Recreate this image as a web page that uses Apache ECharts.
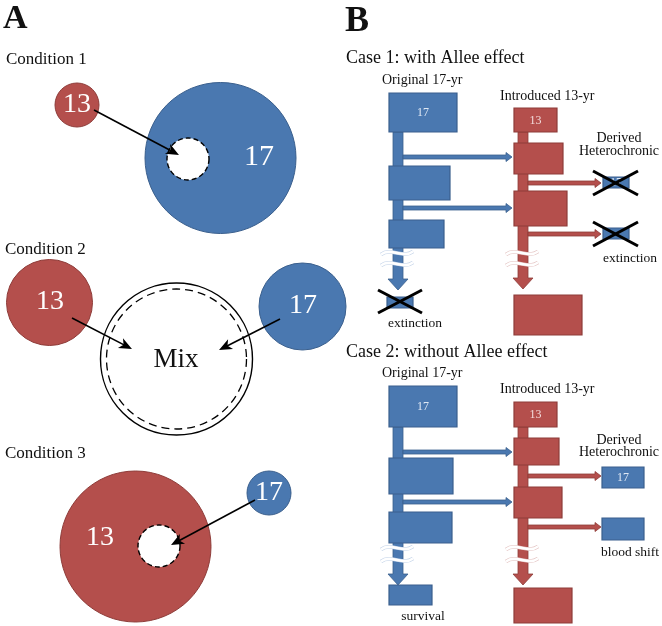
<!DOCTYPE html>
<html><head><meta charset="utf-8">
<script src="https://cdn.jsdelivr.net/npm/echarts@6/dist/echarts.min.js"></script>
<style>html,body{margin:0;padding:0;background:#fff}#c{width:662px;height:626px}</style>
</head><body><div id="c"></div>
<script>
// ---------- Panel A ----------
// circles: [cx, cy, r, kind]
const circlesA = [
  [77, 105, 22, 'red'], [220.5, 158, 75.5, 'blue'], [188, 159, 21, 'hole'],
  [49.5, 302.5, 43, 'red'], [302.5, 306.5, 43.5, 'blue'],
  [176.5, 359, 76, 'ring'], [176.5, 359, 70, 'ringDash'],
  [135.5, 546.5, 75.5, 'red'], [159, 546, 21, 'hole'], [269, 493, 22, 'blue']
];
// arrows: [x1, y1, x2, y2]
const arrowsA = [
  [94, 110, 179, 155], [72, 318, 132, 349], [280, 319, 219, 350], [255, 500, 171, 545]
];
// ---------- Panel B ----------
// boxes: [x0, y0, x1, y1, kind, label]
const boxesB = [
  [389, 93, 457, 132, 'blue', '17'], [389, 166, 450, 200, 'blue', ''], [389, 220, 444, 248, 'blue', ''],
  [387, 297, 413, 308, 'blue', ''],
  [514, 108, 557, 132, 'red', '13'], [514, 143, 563, 174, 'red', ''], [514, 191, 567, 226, 'red', ''],
  [514, 295, 582, 335, 'red', ''],
  [603, 177, 629, 188, 'blue', '17'], [603, 228, 629, 239, 'blue', ''],
  [389, 386, 457, 427, 'blue', '17'], [389, 458, 453, 494, 'blue', ''], [389, 512, 452, 543, 'blue', ''],
  [389, 585, 432, 605, 'blue', ''],
  [514, 402, 557, 427, 'red', '13'], [514, 438, 559, 465, 'red', ''], [514, 487, 562, 518, 'red', ''],
  [514, 588, 572, 623, 'red', ''],
  [602, 467, 644, 488, 'blue', '17'], [602, 518, 644, 540, 'blue', '']
];
// vertical stems: [xCenter, yTop, yTip, kind]
const stemsB = [
  [398, 132, 290, 'blue'], [523, 132, 289, 'red'],
  [398, 427, 585, 'blue'], [523, 427, 585, 'red']
];
// horizontal arrows: [x0, x1, y, kind]
const hArrowsB = [
  [403, 512, 157, 'blue'], [403, 512, 208, 'blue'],
  [528, 601, 183, 'red'], [528, 601, 234, 'red'],
  [403, 512, 452, 'blue'], [403, 512, 502, 'blue'],
  [528, 601, 476, 'red'], [528, 601, 527, 'red']
];
// break waves: [xCenter, y, kind]
const wavesB = [
  [397, 253, 'blue'], [397, 264, 'blue'], [522, 253, 'red'], [522, 264, 'red'],
  [397, 548, 'blue'], [397, 560, 'blue'], [522, 548, 'red'], [522, 560, 'red']
];
// crosses: [x0, y0, x1, y1]
const crossesB = [
  [378, 290, 422, 313], [593, 171, 638, 195], [593, 222, 638, 246]
];
// texts: [text, x, y, size, align, colour, weight]
const textsAll = [
  ['A', 3, 19, 34, 'left', 'k', 'bold'], ['B', 345, 22, 36, 'left', 'k', 'bold'],
  ['Condition 1', 6, 60, 17, 'left', 'k'], ['Condition 2', 5, 250, 17, 'left', 'k'],
  ['Condition 3', 5, 454, 17, 'left', 'k'],
  ['13', 77, 105, 28, 'center', 'w'], ['17', 259, 157, 30, 'center', 'w'],
  ['13', 50, 302, 28, 'center', 'w'], ['17', 303, 306, 28, 'center', 'w'],
  ['Mix', 176, 360, 27, 'center', 'k'],
  ['13', 100, 538, 28, 'center', 'w'], ['17', 269, 493, 28, 'center', 'w'],
  ['Case 1: with Allee effect', 346, 58, 18, 'left', 'k'],
  ['Original 17-yr', 382, 80, 14, 'left', 'k'], ['Introduced 13-yr', 500, 96, 14, 'left', 'k'],
  ['Derived', 619, 138, 14, 'center', 'k'], ['Heterochronic', 619, 151, 14, 'center', 'k'],
  ['extinction', 415, 323, 13.5, 'center', 'k'], ['extinction', 630, 258, 13.5, 'center', 'k'],
  ['Case 2: without Allee effect', 346, 352, 18, 'left', 'k'],
  ['Original 17-yr', 382, 373, 14, 'left', 'k'], ['Introduced 13-yr', 500, 389, 14, 'left', 'k'],
  ['Derived', 619, 440, 14, 'center', 'k'], ['Heterochronic', 619, 452, 14, 'center', 'k'],
  ['survival', 423, 616, 13.5, 'center', 'k'], ['blood shift', 630, 552, 13.5, 'center', 'k']
];

const FONT = '"Liberation Serif", "DejaVu Serif", serif';
const COL = {
  red: { fill: '#b44f4c', stroke: '#8e3c39', pale: '#e3c2c1', text: '#f3dcdc' },
  blue: { fill: '#4a78b0', stroke: '#3a5f8d', pale: '#c3d3e8', text: '#dfe8f4' },
  k: '#111', w: '#fff'
};

function pt(api, x, y) { return api.coord([x, y]); }
function len(api, v) { return api.size([v, 0])[0]; }

function mkSeries(name, arr, render, z) {
  return {
    type: 'custom', name, z: z, silent: true, animation: false, clip: false,
    data: arr.map(() => [0, 0]), encode: { x: 0, y: 1 },
    renderItem: (params, api) => render(arr[params.dataIndex], api)
  };
}

function renderCircle(d, api) {
  const p = pt(api, d[0], d[1]); const r = len(api, d[2]); const k = d[3];
  let style;
  if (k === 'red' || k === 'blue') style = { fill: COL[k].fill, stroke: COL[k].stroke, lineWidth: 1 };
  else if (k === 'hole') style = { fill: '#fff', stroke: '#000', lineWidth: 1.4, lineDash: [5, 3] };
  else if (k === 'ring') style = { fill: '#fff', stroke: '#000', lineWidth: 1.4 };
  else style = { fill: 'none', stroke: '#000', lineWidth: 1.3, lineDash: [8, 5] };
  return { type: 'circle', shape: { cx: p[0], cy: p[1], r }, style };
}

function renderArrowA(d, api) {
  const a = pt(api, d[0], d[1]), b = pt(api, d[2], d[3]);
  const dx = b[0] - a[0], dy = b[1] - a[1], L = Math.hypot(dx, dy);
  const ux = dx / L, uy = dy / L, nx = -uy, ny = ux;
  const hl = 13, hw = 5.5;
  const bx = b[0] - ux * hl, by = b[1] - uy * hl;
  return {
    type: 'group', children: [
      { type: 'line', shape: { x1: a[0], y1: a[1], x2: bx + ux * 4, y2: by + uy * 4 }, style: { stroke: '#000', lineWidth: 1.6 } },
      { type: 'polygon', shape: { points: [b, [bx + nx * hw, by + ny * hw], [bx + ux * 3.5, by + uy * 3.5], [bx - nx * hw, by - ny * hw]] }, style: { fill: '#000' } }
    ]
  };
}

function renderBox(d, api) {
  const p0 = pt(api, d[0], d[1]), p1 = pt(api, d[2], d[3]); const c = COL[d[4]];
  const children = [{ type: 'rect', shape: { x: p0[0], y: p0[1], width: p1[0] - p0[0], height: p1[1] - p0[1] }, style: { fill: c.fill, stroke: c.stroke, lineWidth: 1.2 } }];
  if (d[5]) children.push({ type: 'text', x: (p0[0] + p1[0]) / 2, y: (p0[1] + p1[1]) / 2 + 0.5, style: { text: d[5], fill: c.text, font: '12px ' + FONT, align: 'center', verticalAlign: 'middle' } });
  return { type: 'group', children };
}

function renderStem(d, api) {
  const x = pt(api, d[0], 0)[0], y0 = pt(api, 0, d[1])[1], y1 = pt(api, 0, d[2])[1]; const c = COL[d[3]];
  const hw = 5, hh = 10, hl = 11;
  return { type: 'polygon', shape: { points: [[x - hw, y0], [x + hw, y0], [x + hw, y1 - hl], [x + hh, y1 - hl], [x, y1], [x - hh, y1 - hl], [x - hw, y1 - hl]] }, style: { fill: c.fill, stroke: c.stroke, lineWidth: 0.8 } };
}

function renderHArrow(d, api) {
  const x0 = pt(api, d[0], 0)[0], x1 = pt(api, d[1], 0)[0], y = pt(api, 0, d[2])[1]; const c = COL[d[3]];
  const sh = 2, hh = 4.5, hl = 6;
  return { type: 'polygon', shape: { points: [[x0, y - sh], [x1 - hl, y - sh], [x1 - hl, y - hh], [x1, y], [x1 - hl, y + hh], [x1 - hl, y + sh], [x0, y + sh]] }, style: { fill: c.fill, stroke: c.stroke, lineWidth: 0.8 } };
}

function renderWave(d, api) {
  const p = pt(api, d[0], d[1]); const c = COL[d[2]];
  const shape = { x1: p[0] - 16, y1: p[1] + 1.5, cpx1: p[0] - 6, cpy1: p[1] - 6, cpx2: p[0] + 6, cpy2: p[1] + 6, x2: p[0] + 16, y2: p[1] - 1.5 };
  return {
    type: 'group', children: [
      { type: 'bezierCurve', shape, style: { stroke: c.pale, lineWidth: 3.8, fill: 'none' } },
      { type: 'bezierCurve', shape, style: { stroke: '#fff', lineWidth: 2.6, fill: 'none' } }
    ]
  };
}

function renderCross(d, api) {
  const a = pt(api, d[0], d[1]), b = pt(api, d[2], d[3]);
  const st = { stroke: '#000', lineWidth: 3 };
  return {
    type: 'group', children: [
      { type: 'line', shape: { x1: a[0], y1: a[1], x2: b[0], y2: b[1] }, style: st },
      { type: 'line', shape: { x1: a[0], y1: b[1], x2: b[0], y2: a[1] }, style: st }
    ]
  };
}

function renderText(d, api) {
  const p = pt(api, d[1], d[2]);
  return { type: 'text', x: p[0], y: p[1], style: { text: d[0], fill: COL[d[5]], font: (d[6] || 'normal') + ' ' + d[3] + 'px ' + FONT, align: d[4], verticalAlign: 'middle' } };
}

const chart = echarts.init(document.getElementById('c'), null, { renderer: 'canvas' });
chart.setOption({
  animation: false,
  backgroundColor: '#fff',
  grid: { left: 0, right: 0, top: 0, bottom: 0 },
  xAxis: { type: 'value', min: 0, max: 662, show: false },
  yAxis: { type: 'value', min: 0, max: 626, inverse: true, show: false },
  series: [
    mkSeries('circlesA', circlesA, renderCircle, 1),
    mkSeries('arrowsA', arrowsA, renderArrowA, 2),
    mkSeries('stems', stemsB, renderStem, 3),
    mkSeries('hArrows', hArrowsB, renderHArrow, 4),
    mkSeries('waves', wavesB, renderWave, 5),
    mkSeries('boxes', boxesB, renderBox, 6),
    mkSeries('crosses', crossesB, renderCross, 7),
    mkSeries('texts', textsAll, renderText, 8)
  ]
});
</script></body></html>
